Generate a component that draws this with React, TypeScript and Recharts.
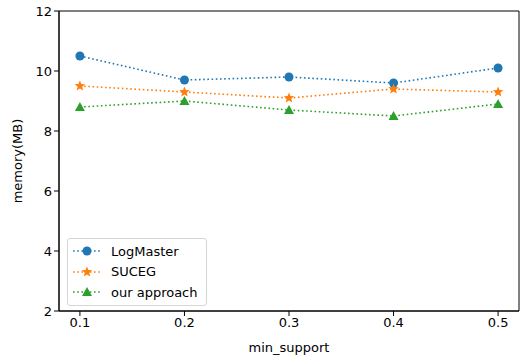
import { Line, LineChart, ReferenceArea, XAxis, YAxis } from "recharts";

const minSupport = [0.1, 0.2, 0.3, 0.4, 0.5];
const logMaster = [10.5, 9.7, 9.8, 9.6, 10.1];
const suceg = [9.5, 9.3, 9.1, 9.4, 9.3];
const ourApproach = [8.8, 9.0, 8.7, 8.5, 8.9];
const yTicks = [2, 4, 6, 8, 10, 12];

const BLUE = "#1f77b4";
const ORANGE = "#ff7f0e";
const GREEN = "#2ca02c";
const FONT = "DejaVu Sans, sans-serif";
const DASH = "1.6 2.6";

const data = minSupport.map((x, i) => ({
  x,
  logMaster: logMaster[i],
  suceg: suceg[i],
  ours: ourApproach[i],
}));

function starPath(cx: number, cy: number, R: number, r: number) {
  const pts: string[] = [];
  for (let i = 0; i < 10; i++) {
    const rad = i % 2 === 0 ? R : r;
    const a = -Math.PI / 2 + (i * Math.PI) / 5;
    pts.push(`${cx + rad * Math.cos(a)},${cy + rad * Math.sin(a)}`);
  }
  return "M" + pts.join("L") + "Z";
}

function Marker({ kind, cx, cy }: { kind: string; cx: number; cy: number }) {
  if (kind === "circle") return <circle cx={cx} cy={cy} r={4.5} fill={BLUE} />;
  if (kind === "star") return <path d={starPath(cx, cy, 5.5, 2.4)} fill={ORANGE} />;
  return (
    <path d={`M${cx},${cy - 5}L${cx + 5},${cy + 4}L${cx - 5},${cy + 4}Z`} fill={GREEN} />
  );
}

const dotFor = (kind: string) => (props: any) => {
  const { cx, cy, index } = props;
  if (cx == null || cy == null) return <g key={index} />;
  return <Marker key={index} kind={kind} cx={cx} cy={cy} />;
};

const legendItems = [
  { label: "LogMaster", color: BLUE, kind: "circle" },
  { label: "SUCEG", color: ORANGE, kind: "star" },
  { label: "our approach", color: GREEN, kind: "triangle" },
];

function LegendBox() {
  return (
    <div
      style={{
        position: "absolute",
        left: 67,
        top: 238,
        border: "1px solid #d6d6d6",
        borderRadius: 3,
        background: "rgba(255,255,255,0.85)",
        padding: "2px 8px 2px 4px",
        fontFamily: FONT,
        fontSize: 13,
        color: "#000",
      }}
    >
      {legendItems.map((it) => (
        <div key={it.label} style={{ display: "flex", alignItems: "center", height: 20.5 }}>
          <svg width={30} height={14} style={{ marginRight: 9 }}>
            <line x1={1} y1={7} x2={29} y2={7} stroke={it.color} strokeWidth={1.6} strokeDasharray={DASH} />
            <Marker kind={it.kind} cx={15} cy={7} />
          </svg>
          <span>{it.label}</span>
        </div>
      ))}
    </div>
  );
}

export default function App() {
  return (
    <div style={{ position: "absolute", left: 0, top: 0, width: 520, height: 356, background: "#fff" }}>
      <LineChart width={520} height={356} data={data} margin={{ top: 11, right: 1, left: 0, bottom: 0 }}>
        <XAxis
          dataKey="x"
          type="number"
          domain={[0.08, 0.52]}
          ticks={minSupport}
          tickFormatter={(v: number) => v.toFixed(1)}
          height={45}
          stroke="#000"
          tickSize={5}
          tick={{ fill: "#000", fontSize: 13, fontFamily: FONT }}
          label={{
            value: "min_support",
            position: "insideBottom",
            offset: 4,
            fill: "#000",
            fontSize: 13,
            fontFamily: FONT,
          }}
        />
        <YAxis
          type="number"
          domain={[2, 12]}
          ticks={yTicks}
          width={59}
          stroke="#000"
          tickSize={5}
          tick={{ fill: "#000", fontSize: 13, fontFamily: FONT }}
          label={{
            content: (p: any) => {
              const vb = p.viewBox;
              const x = vb.x + 17;
              const y = vb.y + vb.height / 2;
              return (
                <text
                  x={x}
                  y={y}
                  transform={`rotate(-90 ${x} ${y})`}
                  textAnchor="middle"
                  dominantBaseline="central"
                  fontSize={13}
                  fontFamily={FONT}
                  fill="#000"
                >
                  memory(MB)
                </text>
              );
            },
          }}
        />
        <ReferenceArea x1={0.08} x2={0.52} y1={2} y2={12} fill="none" stroke="#000" strokeWidth={1} />
        <Line
          dataKey="logMaster"
          stroke={BLUE}
          strokeWidth={1.6}
          strokeDasharray={DASH}
          dot={dotFor("circle")}
          isAnimationActive={false}
        />
        <Line
          dataKey="suceg"
          stroke={ORANGE}
          strokeWidth={1.6}
          strokeDasharray={DASH}
          dot={dotFor("star")}
          isAnimationActive={false}
        />
        <Line
          dataKey="ours"
          stroke={GREEN}
          strokeWidth={1.6}
          strokeDasharray={DASH}
          dot={dotFor("triangle")}
          isAnimationActive={false}
        />
      </LineChart>
      <LegendBox />
    </div>
  );
}
